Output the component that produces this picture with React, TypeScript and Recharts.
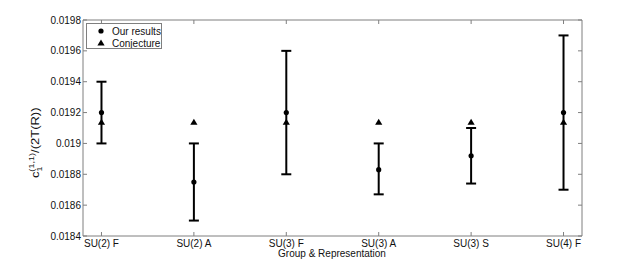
import {
  ComposedChart,
  Scatter,
  ErrorBar,
  XAxis,
  YAxis,
  Legend,
} from "recharts";

const categories = ["SU(2) F", "SU(2) A", "SU(3) F", "SU(3) A", "SU(3) S", "SU(4) F"];
const ourResults = [0.0192, 0.01875, 0.0192, 0.01883, 0.01892, 0.0192];
const errLow = [0.019, 0.0185, 0.0188, 0.01867, 0.01874, 0.0187];
const errHigh = [0.0194, 0.019, 0.0196, 0.019, 0.0191, 0.0197];
const conjecture = [0.01914, 0.01914, 0.01914, 0.01914, 0.01914, 0.01914];
const yTicks = [0.0184, 0.0186, 0.0188, 0.019, 0.0192, 0.0194, 0.0196, 0.0198];
const xTicks = [0, 1, 2, 3, 4, 5];

const rows = categories.map((name, i) => ({
  x: i,
  name,
  ours: ourResults[i],
  err: [ourResults[i] - errLow[i], errHigh[i] - ourResults[i]],
  conj: conjecture[i],
}));

const AXIS = "#7f7f7f";
const TEXT = "#111";
const FONT = "'Liberation Sans', Arial, Helvetica, sans-serif";

const LeftTick = ({ x, y, payload }: any) => (
  <g>
    <line x1={x} x2={x + 4} y1={y} y2={y} stroke={AXIS} />
    <text x={x - 2} y={y} dy="0.35em" textAnchor="end" fontSize={10} fill={TEXT} fontFamily={FONT}>
      {String(+Number(payload.value).toFixed(4))}
    </text>
  </g>
);

const RightTick = ({ x, y }: any) => (
  <line x1={x - 4} x2={x} y1={y} y2={y} stroke={AXIS} />
);

const BottomTick = ({ x, y, payload }: any) => (
  <g>
    <line x1={x} x2={x} y1={y} y2={y - 4} stroke={AXIS} />
    <text x={x} y={y + 11} textAnchor="middle" fontSize={10} fill={TEXT} fontFamily={FONT}>
      {categories[payload.value]}
    </text>
  </g>
);

const TopTick = ({ x, y }: any) => (
  <line x1={x} x2={x} y1={y} y2={y + 4} stroke={AXIS} />
);

const Dot = (p: any) => <circle cx={p.cx} cy={p.cy} r={2.6} fill="#000" />;
const Tri = (p: any) => (
  <polygon
    points={`${p.cx},${p.cy - 3.2} ${p.cx - 3.6},${p.cy + 2.8} ${p.cx + 3.6},${p.cy + 2.8}`}
    fill="#000"
  />
);

// the exported label is stretched along its length, so scale it to match
const YLabel = () => (
  <text
    transform="translate(39,178) rotate(-90) scale(1.3,1)"
    fontSize={10}
    fill={TEXT}
    fontFamily={FONT}
  >
    c
    <tspan fontSize={7} dy={3}>1</tspan>
    <tspan fontSize={7} dx={-4} dy={-8}>(1,1)</tspan>
    <tspan fontSize={10} dy={5}>/(2T(R))</tspan>
  </text>
);

const XLabel = () => (
  <text x={332} y={257} textAnchor="middle" fontSize={10} fill={TEXT} fontFamily={FONT}>
    Group &amp; Representation
  </text>
);

const LegendBox = () => (
  <div
    style={{
      width: 74,
      height: 24,
      border: `1px solid ${AXIS}`,
      background: "#fff",
      fontFamily: FONT,
      fontSize: 10,
      color: TEXT,
      position: "relative",
    }}
  >
    <svg width={74} height={24} style={{ position: "absolute", left: 0, top: 0 }}>
      <circle cx={14} cy={7} r={2.6} fill="#000" />
      <polygon points="14,15.5 10.4,21.5 17.6,21.5" fill="#000" />
      <text x={25} y={11} fontSize={10} fill={TEXT} fontFamily={FONT}>Our results</text>
      <text x={25} y={23} fontSize={10} fill={TEXT} fontFamily={FONT}>Conjecture</text>
    </svg>
  </div>
);

export default function App() {
  return (
    <div style={{ position: "absolute", left: 0, top: 0, background: "#fff" }}>
      <ComposedChart
        width={643}
        height={266}
        data={rows}
        margin={{ top: 0, right: 0, bottom: 0, left: 0 }}
      >
        <XAxis
          dataKey="x"
          type="number"
          domain={[-0.2, 5.2]}
          ticks={xTicks}
          allowDataOverflow
          height={30}
          tickSize={0}
          tickMargin={0}
          tickLine={false}
          axisLine={{ stroke: AXIS }}
          tick={<BottomTick />}
          interval={0}
          label={<XLabel />}
        />
        <XAxis
          xAxisId="top"
          orientation="top"
          dataKey="x"
          type="number"
          domain={[-0.2, 5.2]}
          ticks={xTicks}
          allowDataOverflow
          height={20}
          tickSize={0}
          tickMargin={0}
          tickLine={false}
          axisLine={{ stroke: AXIS }}
          tick={<TopTick />}
          interval={0}
        />
        <YAxis
          type="number"
          domain={[0.0184, 0.0198]}
          ticks={yTicks}
          allowDataOverflow
          width={83}
          tickSize={0}
          tickMargin={0}
          tickLine={false}
          axisLine={{ stroke: AXIS }}
          tick={<LeftTick />}
          interval={0}
          label={<YLabel />}
        />
        <YAxis
          yAxisId="right"
          orientation="right"
          type="number"
          domain={[0.0184, 0.0198]}
          ticks={yTicks}
          allowDataOverflow
          width={61}
          tickSize={0}
          tickMargin={0}
          tickLine={false}
          axisLine={{ stroke: AXIS }}
          tick={<RightTick />}
          interval={0}
        />
        <Legend
          layout="horizontal"
          align="center"
          verticalAlign="middle"
          wrapperStyle={{ left: 86, top: 23, width: 76, height: 26 }}
          content={<LegendBox />}
        />
        <Scatter
          name="Our results"
          dataKey="ours"
          shape={<Dot />}
          isAnimationActive={false}
        >
          <ErrorBar
            dataKey="err"
            direction="y"
            width={5}
            strokeWidth={2}
            stroke="#000"
            isAnimationActive={false}
          />
        </Scatter>
        <Scatter
          name="Conjecture"
          dataKey="conj"
          shape={<Tri />}
          isAnimationActive={false}
        />
      </ComposedChart>
    </div>
  );
}
